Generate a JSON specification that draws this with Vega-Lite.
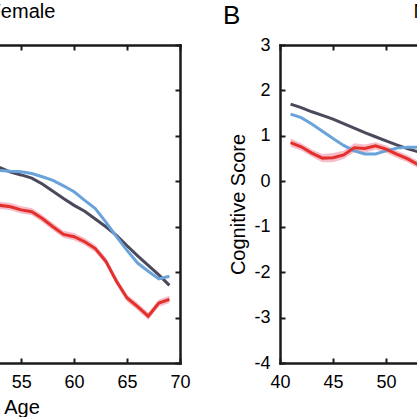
{
  "$schema": "https://vega.github.io/schema/vega-lite/v6.json",
  "padding": {"left": -12, "right": -40, "top": 1, "bottom": 0},
  "background": "white",
  "config": {
    "view": {"stroke": null},
    "font": "Liberation Sans",
    "axis": {
      "labelFont": "Liberation Sans",
      "labelFontSize": 18,
      "labelColor": "black",
      "labelFlush": false,
      "titleFont": "Liberation Sans",
      "titleFontSize": 20,
      "titleFontWeight": "normal",
      "titleColor": "black",
      "domainColor": "#1a1a1a",
      "domainWidth": 2.5,
      "domainCap": "square",
      "tickColor": "#1a1a1a",
      "tickWidth": 2,
      "tickSize": -5,
      "labelPadding": 15,
      "grid": false,
      "labelExpr": "'' + datum.value"
    },
    "title": {"font": "Liberation Sans", "fontWeight": "normal", "color": "black"}
  },
  "datasets": {
    "female": [
      {"age": 52, "series": "Series 1", "score": 0.40},
      {"age": 53, "series": "Series 1", "score": 0.30},
      {"age": 54, "series": "Series 1", "score": 0.20},
      {"age": 55, "series": "Series 1", "score": 0.14},
      {"age": 56, "series": "Series 1", "score": 0.07},
      {"age": 57, "series": "Series 1", "score": -0.06},
      {"age": 58, "series": "Series 1", "score": -0.22},
      {"age": 59, "series": "Series 1", "score": -0.38},
      {"age": 60, "series": "Series 1", "score": -0.53},
      {"age": 61, "series": "Series 1", "score": -0.66},
      {"age": 62, "series": "Series 1", "score": -0.83},
      {"age": 63, "series": "Series 1", "score": -1.00},
      {"age": 64, "series": "Series 1", "score": -1.19},
      {"age": 65, "series": "Series 1", "score": -1.42},
      {"age": 66, "series": "Series 1", "score": -1.64},
      {"age": 67, "series": "Series 1", "score": -1.85},
      {"age": 68, "series": "Series 1", "score": -2.06},
      {"age": 69, "series": "Series 1", "score": -2.29},
      {"age": 52, "series": "Series 2", "score": 0.25},
      {"age": 53, "series": "Series 2", "score": 0.24},
      {"age": 54, "series": "Series 2", "score": 0.22},
      {"age": 55, "series": "Series 2", "score": 0.21},
      {"age": 56, "series": "Series 2", "score": 0.17},
      {"age": 57, "series": "Series 2", "score": 0.10},
      {"age": 58, "series": "Series 2", "score": 0.02},
      {"age": 59, "series": "Series 2", "score": -0.10},
      {"age": 60, "series": "Series 2", "score": -0.23},
      {"age": 61, "series": "Series 2", "score": -0.42},
      {"age": 62, "series": "Series 2", "score": -0.60},
      {"age": 63, "series": "Series 2", "score": -0.90},
      {"age": 64, "series": "Series 2", "score": -1.22},
      {"age": 65, "series": "Series 2", "score": -1.52},
      {"age": 66, "series": "Series 2", "score": -1.80},
      {"age": 67, "series": "Series 2", "score": -1.98},
      {"age": 68, "series": "Series 2", "score": -2.15},
      {"age": 69, "series": "Series 2", "score": -2.09},
      {"age": 52, "series": "Series 3", "score": -0.52},
      {"age": 53, "series": "Series 3", "score": -0.53},
      {"age": 54, "series": "Series 3", "score": -0.56},
      {"age": 55, "series": "Series 3", "score": -0.63},
      {"age": 56, "series": "Series 3", "score": -0.67},
      {"age": 57, "series": "Series 3", "score": -0.82},
      {"age": 58, "series": "Series 3", "score": -1.00},
      {"age": 59, "series": "Series 3", "score": -1.17},
      {"age": 60, "series": "Series 3", "score": -1.22},
      {"age": 61, "series": "Series 3", "score": -1.33},
      {"age": 62, "series": "Series 3", "score": -1.48},
      {"age": 63, "series": "Series 3", "score": -1.76},
      {"age": 64, "series": "Series 3", "score": -2.20},
      {"age": 65, "series": "Series 3", "score": -2.57},
      {"age": 66, "series": "Series 3", "score": -2.76},
      {"age": 67, "series": "Series 3", "score": -2.97},
      {"age": 68, "series": "Series 3", "score": -2.68},
      {"age": 69, "series": "Series 3", "score": -2.60}
    ],
    "female_band": [
      {"age": 52, "lo": -0.60, "hi": -0.44},
      {"age": 53, "lo": -0.61, "hi": -0.45},
      {"age": 54, "lo": -0.64, "hi": -0.48},
      {"age": 55, "lo": -0.71, "hi": -0.55},
      {"age": 56, "lo": -0.75, "hi": -0.59},
      {"age": 57, "lo": -0.90, "hi": -0.74},
      {"age": 58, "lo": -1.08, "hi": -0.92},
      {"age": 59, "lo": -1.25, "hi": -1.09},
      {"age": 60, "lo": -1.30, "hi": -1.14},
      {"age": 61, "lo": -1.41, "hi": -1.25},
      {"age": 62, "lo": -1.56, "hi": -1.40},
      {"age": 63, "lo": -1.84, "hi": -1.68},
      {"age": 64, "lo": -2.28, "hi": -2.12},
      {"age": 65, "lo": -2.65, "hi": -2.49},
      {"age": 66, "lo": -2.84, "hi": -2.68},
      {"age": 67, "lo": -3.05, "hi": -2.89},
      {"age": 68, "lo": -2.76, "hi": -2.60},
      {"age": 69, "lo": -2.68, "hi": -2.52}
    ],
    "male": [
      {"age": 41, "series": "Series 1", "score": 1.70},
      {"age": 42, "series": "Series 1", "score": 1.62},
      {"age": 43, "series": "Series 1", "score": 1.53},
      {"age": 44, "series": "Series 1", "score": 1.45},
      {"age": 45, "series": "Series 1", "score": 1.37},
      {"age": 46, "series": "Series 1", "score": 1.27},
      {"age": 47, "series": "Series 1", "score": 1.17},
      {"age": 48, "series": "Series 1", "score": 1.07},
      {"age": 49, "series": "Series 1", "score": 0.98},
      {"age": 50, "series": "Series 1", "score": 0.89},
      {"age": 51, "series": "Series 1", "score": 0.80},
      {"age": 52, "series": "Series 1", "score": 0.72},
      {"age": 53, "series": "Series 1", "score": 0.65},
      {"age": 54, "series": "Series 1", "score": 0.58},
      {"age": 41, "series": "Series 2", "score": 1.48},
      {"age": 42, "series": "Series 2", "score": 1.40},
      {"age": 43, "series": "Series 2", "score": 1.26},
      {"age": 44, "series": "Series 2", "score": 1.10},
      {"age": 45, "series": "Series 2", "score": 0.94},
      {"age": 46, "series": "Series 2", "score": 0.79},
      {"age": 47, "series": "Series 2", "score": 0.67},
      {"age": 48, "series": "Series 2", "score": 0.60},
      {"age": 49, "series": "Series 2", "score": 0.60},
      {"age": 50, "series": "Series 2", "score": 0.67},
      {"age": 51, "series": "Series 2", "score": 0.73},
      {"age": 52, "series": "Series 2", "score": 0.75},
      {"age": 53, "series": "Series 2", "score": 0.75},
      {"age": 54, "series": "Series 2", "score": 0.74},
      {"age": 41, "series": "Series 3", "score": 0.85},
      {"age": 42, "series": "Series 3", "score": 0.76},
      {"age": 43, "series": "Series 3", "score": 0.62},
      {"age": 44, "series": "Series 3", "score": 0.51},
      {"age": 45, "series": "Series 3", "score": 0.52},
      {"age": 46, "series": "Series 3", "score": 0.58},
      {"age": 47, "series": "Series 3", "score": 0.74},
      {"age": 48, "series": "Series 3", "score": 0.72},
      {"age": 49, "series": "Series 3", "score": 0.78},
      {"age": 50, "series": "Series 3", "score": 0.71},
      {"age": 51, "series": "Series 3", "score": 0.60},
      {"age": 52, "series": "Series 3", "score": 0.50},
      {"age": 53, "series": "Series 3", "score": 0.37},
      {"age": 54, "series": "Series 3", "score": 0.25}
    ],
    "male_band": [
      {"age": 41, "lo": 0.76, "hi": 0.94},
      {"age": 42, "lo": 0.68, "hi": 0.84},
      {"age": 43, "lo": 0.54, "hi": 0.70},
      {"age": 44, "lo": 0.42, "hi": 0.60},
      {"age": 45, "lo": 0.42, "hi": 0.62},
      {"age": 46, "lo": 0.49, "hi": 0.67},
      {"age": 47, "lo": 0.64, "hi": 0.84},
      {"age": 48, "lo": 0.63, "hi": 0.81},
      {"age": 49, "lo": 0.70, "hi": 0.86},
      {"age": 50, "lo": 0.63, "hi": 0.79},
      {"age": 51, "lo": 0.52, "hi": 0.68},
      {"age": 52, "lo": 0.42, "hi": 0.58},
      {"age": 53, "lo": 0.29, "hi": 0.45},
      {"age": 54, "lo": 0.17, "hi": 0.33}
    ]
  },
  "spacing": 100,
  "bounds": "flush",
  "hconcat": [
    {
      "width": 180,
      "height": 318,
      "resolve": {"axis": {"x": "independent"}},
      "layer": [
        {
          "data": {"name": "female_band"},
          "mark": {"type": "area", "color": "#f4b0c0", "opacity": 0.85, "clip": true},
          "encoding": {
            "x": {"field": "age", "type": "quantitative",
                  "scale": {"domain": [53, 70], "nice": false, "zero": false},
                  "axis": {"orient": "bottom", "values": [55, 60, 65, 70], "title": "Age",
                           "titleX": 21.5, "titleY": 50, "titleBaseline": "alphabetic"}},
            "y": {"field": "lo", "type": "quantitative",
                  "scale": {"domain": [-4, 3], "nice": false, "zero": false},
                  "axis": {"orient": "right", "values": [-4, -3, -2, -1, 0, 1, 2, 3], "labels": false, "title": null}},
            "y2": {"field": "hi"}
          }
        },
        {
          "data": {"name": "female"},
          "mark": {"type": "line", "strokeWidth": 3, "clip": true},
          "encoding": {
            "x": {"field": "age", "type": "quantitative",
                  "scale": {"domain": [53, 70], "nice": false, "zero": false},
                  "axis": {"orient": "top", "values": [55, 60, 65, 70], "labels": false, "title": "Female",
                           "titleX": 21.5, "titleY": -28, "titleBaseline": "alphabetic"}},
            "y": {"field": "score", "type": "quantitative",
                  "scale": {"domain": [-4, 3], "nice": false, "zero": false},
                  "axis": {"orient": "right", "values": [-4, -3, -2, -1, 0, 1, 2, 3], "labels": false, "title": null}},
            "color": {"field": "series", "type": "nominal", "legend": null,
                      "scale": {"domain": ["Series 1", "Series 2", "Series 3"], "range": ["#4a4a5c", "#6aa3d9", "#e3302b"]}}
          }
        }
      ]
    },
    {
      "width": 140,
      "height": 318,
      "title": {"text": "B", "anchor": "start", "frame": "group", "fontSize": 26, "dx": -57, "dy": 32},
      "resolve": {"axis": {"x": "independent"}},
      "layer": [
        {
          "data": {"name": "male_band"},
          "mark": {"type": "area", "color": "#f4b0c0", "opacity": 0.85, "clip": true},
          "encoding": {
            "x": {"field": "age", "type": "quantitative",
                  "scale": {"domain": [40, 53.2], "nice": false, "zero": false},
                  "axis": {"orient": "bottom", "values": [40, 45, 50], "title": null}},
            "y": {"field": "lo", "type": "quantitative",
                  "scale": {"domain": [-4, 3], "nice": false, "zero": false},
                  "axis": {"orient": "left", "values": [-4, -3, -2, -1, 0, 1, 2, 3], "title": "Cognitive Score",
                           "titleX": -42, "titleBaseline": "middle"}},
            "y2": {"field": "hi"}
          }
        },
        {
          "data": {"name": "male"},
          "mark": {"type": "line", "strokeWidth": 3, "clip": true},
          "encoding": {
            "x": {"field": "age", "type": "quantitative",
                  "scale": {"domain": [40, 53.2], "nice": false, "zero": false},
                  "axis": {"orient": "top", "values": [40, 45, 50], "labels": false, "title": "Male",
                           "titleX": 154.7, "titleY": -28, "titleBaseline": "alphabetic"}},
            "y": {"field": "score", "type": "quantitative",
                  "scale": {"domain": [-4, 3], "nice": false, "zero": false},
                  "axis": {"orient": "left", "values": [-4, -3, -2, -1, 0, 1, 2, 3], "title": "Cognitive Score",
                           "titleX": -42, "titleBaseline": "middle"}},
            "color": {"field": "series", "type": "nominal", "legend": null,
                      "scale": {"domain": ["Series 1", "Series 2", "Series 3"], "range": ["#4a4a5c", "#6aa3d9", "#e3302b"]}}
          }
        }
      ]
    }
  ]
}
